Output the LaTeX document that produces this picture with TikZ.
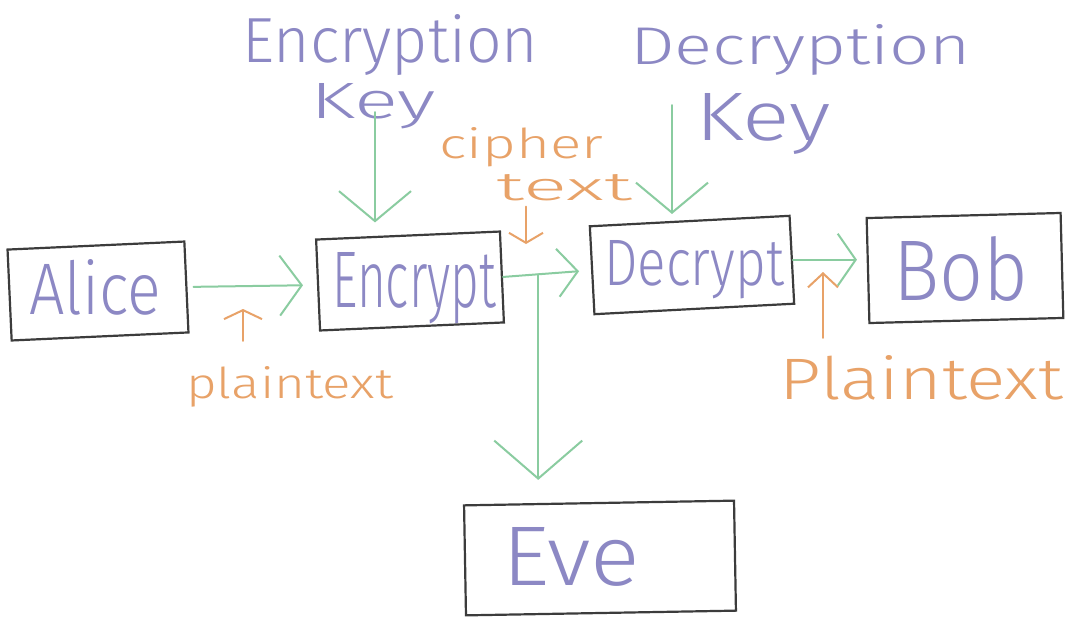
\documentclass[tikz,border=0pt]{standalone}
\usepackage{fontspec}
\usepackage{graphicx}
\setmainfont{Fira Sans Light}
\usetikzlibrary{arrows.meta,calc}
\definecolor{hpurple}{RGB}{140,136,196}
\definecolor{horange}{RGB}{232,162,104}
\definecolor{hgreen}{RGB}{138,204,160}
\definecolor{hbox}{RGB}{60,60,60}
\newcommand{\hw}[3]{\resizebox{#1pt}{#2pt}{#3}}
\tikzset{
  sketchbox/.style={draw=hbox, line width=2.2pt, rectangle, inner sep=0pt},
  purpletext/.style={text=hpurple, inner sep=0pt, anchor=base west},
  orangetext/.style={text=horange, inner sep=0pt, anchor=base west},
  garrow/.style={draw=hgreen, line width=2pt, line cap=round, line join=round},
  oarrow/.style={draw=horange, line width=2pt, line cap=round, line join=round},
}
\begin{document}
\begin{tikzpicture}[x=1pt,y=-1pt]
\useasboundingbox[fill=white] (0,0) rectangle (1068,619);
% boxes
\node[sketchbox, minimum width=177pt, minimum height=91pt, rotate=2.6] (alice) at (98,291) {};
\node[sketchbox, minimum width=184pt, minimum height=91pt, rotate=2.5] (encrypt) at (410,281) {};
\node[sketchbox, minimum width=200pt, minimum height=88pt, rotate=3] (decrypt) at (692,265) {};
\node[sketchbox, minimum width=194pt, minimum height=105pt, rotate=1.5] (bob) at (965,268) {};
\node[sketchbox, minimum width=270pt, minimum height=110pt, rotate=1] (eve) at (600,558) {};
% labels
\node[purpletext] (alicelbl) at (29,314) {\hw{132}{55}{Alice}};
\node[purpletext] (enclbl) at (332,307) {\hw{164}{55}{Encrypt}};
\node[purpletext] (declbl) at (604,285) {\hw{180}{45}{Decrypt}};
\node[purpletext] (boblbl) at (893,300) {\hw{135}{64}{Bob}};
\node[purpletext] (evelbl) at (502,585) {\hw{138}{58}{Eve}};
\node[purpletext] (enctop) at (242,62) {\hw{296}{48}{Encryption}};
\node[purpletext] (enckey) at (310,118) {\hw{126}{35}{Key}};
\node[purpletext] (dectop) at (630,64) {\hw{341}{40}{Decryption}};
\node[purpletext] (deckey) at (695,140) {\hw{136}{47}{Key}};
\node[orangetext] (ctc) at (439,158) {\hw{164}{31}{cipher}};
\node[orangetext] (ct) at (496,200) {\hw{136}{26}{text}};
\node[orangetext] (ptl) at (186,398) {\hw{207}{32}{plaintext}};
\node[orangetext] (ptr) at (779,399) {\hw{284}{44}{Plaintext}};
% coordinates
\coordinate (ekstart) at (375,112);
\coordinate (dkstart) at (672,105);
\coordinate (tap) at ($(encrypt.east)!0.4!(decrypt.west)$);
\coordinate (ptltip) at (243,309);
\coordinate (ptrtip) at (823,272);
\coordinate (cttip) at (526,244);
% green connectors
\draw[garrow, -{Straight Barb[length=22pt,width=60pt]}, shorten <=6pt, shorten >=14pt] (alice.east) -- (encrypt.west);
\draw[garrow, -{Straight Barb[length=30pt,width=72pt]}, shorten >=12pt] (ekstart) -- (ekstart |- encrypt.north);
\draw[garrow, -{Straight Barb[length=30pt,width=72pt]}, shorten >=6pt] (dkstart) -- (dkstart |- decrypt.north);
\draw[garrow, -{Straight Barb[length=20pt,width=48pt]}, shorten >=12pt] (encrypt.east) -- (decrypt.west);
\draw[garrow, -{Straight Barb[length=38pt,width=88pt]}, shorten >=22pt] (tap) -- (tap |- eve.north);
\draw[garrow, -{Straight Barb[length=18pt,width=52pt]}, shorten >=10pt] (decrypt.east) -- (decrypt.east -| bob.west);
% orange pointers
\draw[oarrow, -{Straight Barb[length=9pt,width=38pt]}, shorten <=25pt] (ptl.north -| ptltip) -- (ptltip);
\draw[oarrow, -{Straight Barb[length=14pt,width=30pt]}, shorten <=17pt] (ptr.north -| ptrtip) -- (ptrtip);
\draw[oarrow, -{Straight Barb[length=10pt,width=34pt]}, shorten <=6pt] (ct.south -| cttip) -- (cttip);
\end{tikzpicture}
\end{document}
